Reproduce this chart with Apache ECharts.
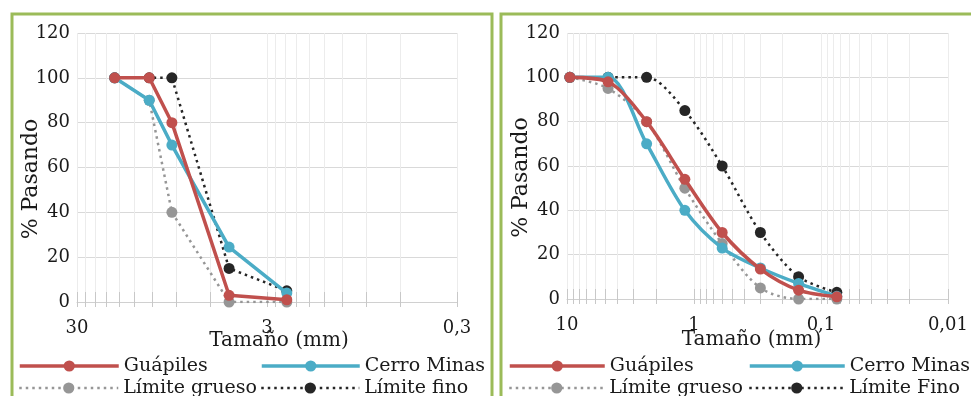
<!DOCTYPE html>
<html>
<head>
<meta charset="utf-8">
<title>Curvas granulométricas</title>
<script src="https://cdn.jsdelivr.net/npm/echarts@6/dist/echarts.min.js"></script>
<style>
  html, body { margin: 0; padding: 0; background: #ffffff; }
  #chart { width: 971px; height: 396px; }
</style>
</head>
<body>
<div id="chart"></div>
<script>
// Coarse fraction (left panel): sieve sizes in mm and % passing
const sizesLeft = [19, 12.5, 9.5, 4.75, 2.36];
const guapilesLeft = [100, 100, 80, 3, 1];
const cerroMinasLeft = [100, 90, 70, 24.5, 4];
const limiteGruesoLeft = [100, 90, 40, 0, 0];
const limiteFinoLeft = [100, 100, 100, 15, 5];

// Fine fraction (right panel)
const sizesRight = [9.5, 4.75, 2.36, 1.18, 0.6, 0.3, 0.15, 0.075];
const guapilesRight = [100, 98, 80, 54, 30, 13.5, 4, 1];
const cerroMinasRight = [100, 100, 70, 40, 23, 14, 7, 1.2];
const limiteGruesoRight = [100, 95, 80, 50, 25, 5, 0, 0];
const limiteFinoRight = [100, 100, 100, 85, 60, 30, 10, 3];

// Axis ranges and tick labels
const xRangeLeft = [0.3, 30];
const xRangeRight = [0.01, 10];
const decadesLeft = [30, 3, 0.3];
const decadesRight = [10, 1, 0.1, 0.01];

const FONT = 'DejaVu Serif';
const TEXT = '#1a1a1a';
const C_GUAP = '#c0504d';
const C_CERRO = '#4bacc6';
const C_GRUESO = '#969696';
const C_FINO = '#262626';
const DOTS = [2.5, 4];

// minor gridline positions: 1..9 times each decade start
function minorValues(lo, hi) {
  const out = [];
  for (let d = lo; d < hi * 0.999; d *= 10) {
    for (let k = 1; k <= 9; k++) out.push(Number((d * k).toPrecision(6)));
  }
  out.push(hi);
  return out;
}

function fmt(v) {
  return String(Number(Number(v).toPrecision(6))).replace('.', ',');
}

function pairs(xs, ys) { return xs.map((x, i) => [x, ys[i]]); }

function xAxesFor(gridIndex, range, decades, namePad, nameGap) {
  const base = {
    type: 'log', logBase: 10, gridIndex: gridIndex,
    min: range[0], max: range[1], inverse: true, position: 'bottom'
  };
  const minors = minorValues(range[0], range[1]);
  return [
    Object.assign({}, base, {
      name: 'Tamaño (mm)', nameLocation: 'middle', nameGap: nameGap, nameMoveOverlap: false,
      nameTextStyle: { fontFamily: FONT, fontSize: 20, color: TEXT, padding: namePad },
      axisLine: { show: true, lineStyle: { color: '#d0d0d0', width: 1 } },
      axisTick: { show: false, customValues: decades },
      axisLabel: { show: true, customValues: decades, formatter: fmt, margin: 17,
        fontFamily: FONT, fontSize: 18, color: TEXT },
      splitLine: { show: true, lineStyle: { color: '#d9d9d9', width: 1 } },
      minorTick: { show: false }, minorSplitLine: { show: false }
    }),
    Object.assign({}, base, {
      axisLine: { show: false },
      axisLabel: { show: false },
      axisTick: { show: true, inside: false, length: 5, customValues: minors,
        lineStyle: { color: '#c8c8c8', width: 1 } },
      splitLine: { show: true, lineStyle: { color: '#ececec', width: 1 } }
    }),
    Object.assign({}, base, {
      axisLine: { show: false },
      axisLabel: { show: false },
      axisTick: { show: true, inside: true, length: 10, customValues: minors,
        lineStyle: { color: '#c8c8c8', width: 1 } },
      splitLine: { show: false }
    })
  ];
}

function yAxisFor(gridIndex, gap) {
  return {
    type: 'value', gridIndex: gridIndex, min: 0, max: 120, interval: 20,
    name: '% Pasando', nameLocation: 'middle', nameGap: gap, nameRotate: 90,
    nameMoveOverlap: false,
    nameTextStyle: { fontFamily: FONT, fontSize: 22, color: TEXT, padding: [0, 23, 0, 0] },
    axisLine: { show: false }, axisTick: { show: false },
    axisLabel: { margin: 7, fontFamily: FONT, fontSize: 18, color: TEXT },
    splitLine: { show: true, lineStyle: { color: '#d9d9d9', width: 1 } }
  };
}

function seriesFor(xIdx, yIdx, sizes, g, c, lg, lf, finoName, smooth) {
  const common = { type: 'line', xAxisIndex: xIdx, yAxisIndex: yIdx, symbol: 'circle',
    symbolSize: 11, smooth: smooth, animation: false, emphasis: { disabled: true } };
  return [
    Object.assign({}, common, { name: 'Límite grueso', z: 2,
      data: pairs(sizes, lg),
      itemStyle: { color: C_GRUESO },
      lineStyle: { color: C_GRUESO, width: 2.5, type: DOTS } }),
    Object.assign({}, common, { name: finoName, z: 3,
      data: pairs(sizes, lf),
      itemStyle: { color: C_FINO },
      lineStyle: { color: C_FINO, width: 2.5, type: DOTS } }),
    Object.assign({}, common, { name: 'Cerro Minas', z: 4,
      data: pairs(sizes, c),
      itemStyle: { color: C_CERRO },
      lineStyle: { color: C_CERRO, width: 3.5 } }),
    Object.assign({}, common, { name: 'Guápiles', z: 5,
      data: pairs(sizes, g),
      itemStyle: { color: C_GUAP },
      lineStyle: { color: C_GUAP, width: 3.5 } })
  ];
}

// one legend entry per box so the two columns line up like a table
function legendItem(left, top, name, width, dotted) {
  return {
    orient: 'horizontal', left: left, top: top, padding: 0,
    itemWidth: width, itemHeight: 14, itemGap: 0, selectedMode: false,
    data: [name],
    lineStyle: { width: dotted ? 2.5 : 3.5 },
    textStyle: { fontFamily: FONT, fontSize: 19, color: TEXT, lineHeight: 20 }
  };
}

const ROW1 = 356, ROW2 = 378;

const chart = echarts.init(document.getElementById('chart'), null, { renderer: 'canvas' });
chart.setOption({
  animation: false,
  backgroundColor: '#ffffff',
  textStyle: { fontFamily: FONT },
  graphic: [
    { type: 'rect', z: -10, shape: { x: 12, y: 14, width: 480, height: 420 },
      style: { fill: null, stroke: '#9bbb59', lineWidth: 3 } },
    { type: 'rect', z: -10, shape: { x: 501, y: 14, width: 500, height: 420 },
      style: { fill: null, stroke: '#9bbb59', lineWidth: 3 } }
  ],
  grid: [
    { left: 77, right: 971 - 457, top: 33, bottom: 396 - 302 },
    { left: 567, right: 971 - 953, top: 33, bottom: 396 - 299 }
  ],
  xAxis: [].concat(
    xAxesFor(0, xRangeLeft, decadesLeft, [0, 0, 0, 24], 29),
    xAxesFor(1, xRangeRight, decadesRight, [0, 12, 0, 0], 31)
  ),
  yAxis: [yAxisFor(0, 35), yAxisFor(1, 35)],
  legend: [
    legendItem(18, ROW1, 'Guápiles', 99, false),
    legendItem(260, ROW1, 'Cerro Minas', 98, false),
    legendItem(18, ROW2, 'Límite grueso', 99, true),
    legendItem(260, ROW2, 'Límite fino', 98, true),
    legendItem(508, ROW1, 'Guápiles', 95, false),
    legendItem(748, ROW1, 'Cerro Minas', 95, false),
    legendItem(508, ROW2, 'Límite grueso', 95, true),
    legendItem(748, ROW2, 'Límite Fino', 95, true)
  ],
  series: [].concat(
    seriesFor(0, 0, sizesLeft, guapilesLeft, cerroMinasLeft, limiteGruesoLeft, limiteFinoLeft, 'Límite fino', false),
    seriesFor(3, 1, sizesRight, guapilesRight, cerroMinasRight, limiteGruesoRight, limiteFinoRight, 'Límite Fino', 0.3)
  )
});
</script>
</body>
</html>
